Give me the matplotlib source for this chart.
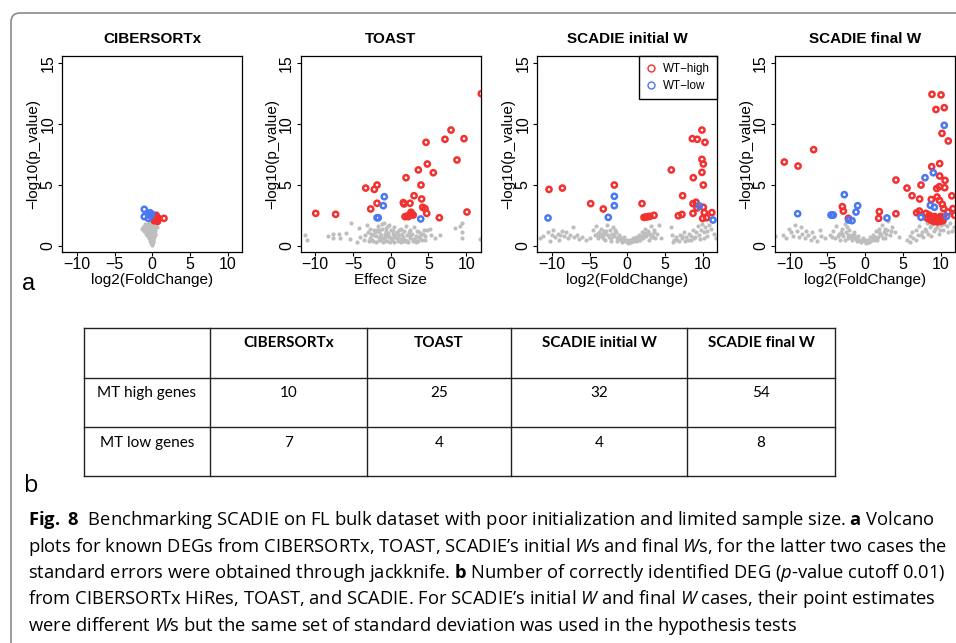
import matplotlib
matplotlib.use('Agg')
import matplotlib.pyplot as plt
from matplotlib.lines import Line2D
from matplotlib.patches import FancyBboxPatch
from matplotlib import font_manager as fm

# fonts: Helvetica-like for the R panels, Myriad/Calibri-like for table and caption
names = {f.name for f in fm.fontManager.ttflist}
plotfont = 'Liberation Sans' if 'Liberation Sans' in names else 'DejaVu Sans'
capfont = 'Open Sans' if 'Open Sans' in names else plotfont
tabfont = 'Lato' if 'Lato' in names else plotfont
plt.rcParams['font.family'] = [plotfont, 'DejaVu Sans']
plt.rcParams['mathtext.fontset'] = 'custom'
plt.rcParams['mathtext.rm'] = capfont
plt.rcParams['mathtext.it'] = capfont + ':italic'
plt.rcParams['mathtext.bf'] = capfont + ':bold'

RED = '#f2302f'
BLUE = '#4a78f2'
GRAY = '#bebebe'

# ---------------- panel a : volcano plots ----------------
titles = ['CIBERSORTx', 'TOAST', 'SCADIE initial W', 'SCADIE final W']
xlabels = ['log2(FoldChange)', 'Effect Size', 'log2(FoldChange)', 'log2(FoldChange)']

# CIBERSORTx
cib_gray_x = [-1.2, -1.0, -0.9, -0.7, -0.5, -0.3, -0.1, 0.1, 0.3, 0.5, -1.3, -1.1, -0.8, -0.6, -0.4,
              -0.2, 0.0, 0.2, 0.4, 0.6, -0.9, -0.7, -0.5, -0.3, -0.1, 0.1, 0.3, -0.6, -0.4, -0.2,
              0.0, 0.2, -0.4, -0.2, 0.0, 0.15, -0.3, -0.1, 0.05, -0.2, 0.0, -0.1, 0.0,
              -1.0, -0.6, -0.2, 0.2, -0.8, -0.4, 0.0, 0.4, -0.5, -0.1, 0.3, -0.3, 0.1, -0.15, 0.1]
cib_gray_y = [1.5, 1.8, 1.3, 1.6, 1.9, 1.7, 1.8, 1.6, 1.7, 1.9, 1.4, 1.2, 1.1, 1.4, 1.3,
              1.5, 1.3, 1.4, 1.2, 1.5, 1.0, 0.9, 1.0, 1.1, 1.0, 1.1, 0.9, 0.8, 0.7, 0.8,
              0.8, 0.7, 0.6, 0.5, 0.6, 0.5, 0.4, 0.35, 0.4, 0.25, 0.2, 0.1, 0.05,
              1.6, 1.75, 1.65, 1.8, 1.35, 1.2, 1.2, 1.35, 0.9, 0.85, 1.0, 0.65, 0.55, 0.3, 0.3]
cib_red_x = [0.36, 0.58, 0.26, 0.80, 1.55, 0.45, 0.70, 0.20, 0.50, 0.62]
cib_red_y = [2.39, 2.11, 2.06, 2.25, 2.25, 2.20, 2.00, 2.30, 2.50, 2.35]
cib_blue_x = [-1.06, -1.06, -0.30, -0.20, -0.53, -0.08, -0.40]
cib_blue_y = [2.99, 2.39, 2.71, 2.47, 2.25, 2.60, 2.55]

# TOAST
toast_gray_x = [-11.3, -11.1, -8.3, -7.6, -7.6, -6.9, -6.7, -5.9, -5.4, -5.2, -4.2, -4.5, -4.1, -3.6, -3.2, -3.0,
                -2.8, -2.6, -2.4, -2.2, -2.0, -1.9, -1.7, -1.6, -1.4, -1.3, -1.1, -1.0, -0.9, -0.8, -0.6, -0.5,
                -0.4, -0.3, -0.1, 0.0, 0.1, 0.3, 0.4, 0.5, 0.7, 0.8, 1.0, 1.1, 1.3, 1.4, 1.6, 1.7, 1.9, 2.0,
                2.2, 2.3, 2.5, 2.6, 2.8, 3.0, 3.1, 3.3, 3.5, 3.6, 3.8, 4.0, 4.2, 4.4, 4.6, -2.5, -1.5, -0.7,
                0.2, 1.2, 2.1, 2.9, -1.2, -0.2, 4.8, 5.4, 5.85, 4.55, 5.2, 6.5, 8.5, 9.4, 9.4, 9.4, 11.8, 9.2,
                -3.4, -2.9, -2.3, -1.8, -1.2, -0.7, -0.2, 0.3, 0.9, 1.5, 2.0, 2.6, 3.2, 3.7, 4.3,
                -2.7, -2.1, -1.5, -0.9, -0.4, 0.6, 1.1, 1.8, 2.4, 3.4, 3.9, -1.6, -0.6, 0.4, 1.6]
toast_gray_y = [0.88, 0.43, 0.80, 0.93, 0.66, 0.93, 0.60, 1.02, 0.52, 1.84, 1.48, 0.33, 0.74, 0.47, 1.70, 1.15,
                0.6, 1.0, 0.4, 1.3, 0.8, 0.3, 1.6, 1.1, 0.5, 0.9, 1.4, 0.3, 1.9, 0.7, 1.2, 0.4,
                1.6, 0.9, 0.3, 1.3, 0.6, 1.0, 0.3, 1.5, 0.7, 1.1, 0.4, 0.9, 1.4, 0.3, 0.7, 1.2, 0.5, 1.6,
                0.9, 0.3, 1.3, 0.6, 1.0, 0.4, 1.5, 0.8, 1.2, 0.35, 0.7, 1.0, 0.5, 1.3, 0.8, 0.5, 0.7, 0.5,
                0.45, 0.55, 0.4, 0.55, 1.8, 1.7, 1.29, 0.88, 0.60, 0.47, 1.4, 0.88, 1.48, 1.84, 1.1, 0.6, 0.52, 1.62,
                0.9, 0.35, 0.85, 1.25, 0.65, 1.0, 0.75, 1.2, 0.6, 1.0, 0.35, 0.85, 0.55, 1.1, 0.95,
                1.4, 1.1, 0.45, 0.4, 1.05, 0.85, 1.25, 0.4, 1.15, 0.3, 0.6, 1.3, 1.45, 0.75, 0.5]
toast_red_x = [-9.93, -7.29, -3.31, -2.17, -1.81, -2.65, -1.81, 2.03, 3.09, 1.67, 1.76, 2.56, 3.66, 4.01, 4.10,
               4.85, 5.64, 4.68, 7.19, 7.99, 9.71, 8.78, 4.24, 4.55, 4.77, 6.44, 10.10, 1.90, 2.20, 2.56, 2.78,
               2.33, 2.69, 2.99, 12.0]
toast_red_y = [2.66, 2.58, 4.74, 4.63, 4.99, 3.02, 3.49, 5.59, 4.11, 3.54, 3.43, 3.49, 6.23, 4.99, 3.84,
               6.72, 6.00, 8.50, 8.75, 9.51, 8.80, 7.05, 3.16, 3.05, 2.66, 2.30, 2.77, 2.39, 2.44, 2.55, 2.60,
               2.39, 2.75, 2.52, 12.5]
toast_blue_x = [-0.85, -0.98, -1.81, -1.64, 3.97]
toast_blue_y = [4.03, 3.29, 2.30, 2.30, 2.20]

# SCADIE initial W
init_gray_x = [-11.5, -11.1, -10.5, -10.3, -9.8, -9.6, -9.2, -9.0, -8.7, -8.4, -8.1, -7.8, -7.6, -7.2, -7.0, -6.7,
               -6.4, -6.0, -5.5, -4.9, -10.0, -8.9, -4.5, -4.3, -4.1, -3.9, -3.7, -3.5, -3.3, -3.1, -2.9, -2.7,
               -2.5, -2.3, -2.1, -1.9, -1.7, -1.5, -1.3, -1.1, -0.9, -0.7, -0.5, -0.3, -0.1, 0.1, 0.3, 0.5,
               0.7, 0.9, 1.1, 1.3, 1.5, 1.7, 1.9, 2.1, 2.3, 2.5, 2.7, 2.9, 3.1, 3.3, 3.5, 3.7, 3.9, 4.2,
               4.5, -3.0, -2.0, -1.0, 0.0, 1.0, 2.0, 3.0, 5.8, 5.9, 6.2, 6.5, 6.8, 7.0, 7.3, 7.5, 7.8, 8.0,
               8.2, 8.5, 8.7, 8.9, 9.1, 9.3, 9.5, 9.7, 9.9, 10.1, 10.3, 10.5, 10.8, 11.1, 11.5, 11.8, 6.0, 7.6,
               -3.8, -3.4, -2.8, -2.4, -1.8, -1.4, -0.8, -0.4, 0.2, 0.6, 1.2, 1.6, 2.2, 2.6, 3.2, 3.6,
               -4.0, -3.2, -2.2, -1.6, -1.2, 0.4, 1.4, 2.4, 3.4, 8.4, 9.0, 9.6, 10.2, 10.6, 7.2, 6.6]
init_gray_y = [0.6, 0.8, 1.1, 0.4, 1.3, 0.7, 1.0, 0.5, 1.2, 0.8, 1.1, 0.6, 0.9, 1.5, 0.7, 0.9,
               0.55, 0.7, 0.45, 0.6, 0.9, 0.9, 1.3, 0.9, 1.6, 0.6, 1.1, 1.4, 0.8, 1.2, 0.5, 1.7,
               0.9, 1.3, 0.6, 1.5, 0.8, 1.1, 0.4, 0.9, 0.6, 0.3, 0.7, 0.35, 0.5, 0.25, 0.45, 0.3,
               0.6, 0.35, 0.7, 0.4, 0.9, 0.5, 1.1, 0.6, 1.4, 0.8, 1.2, 0.5, 1.6, 0.9, 1.3, 0.6, 1.0, 1.7,
               0.6, 1.0, 1.0, 0.6, 0.4, 0.5, 0.8, 1.0, 1.5, 0.9, 0.5, 0.7, 0.4, 0.9, 0.6, 1.1, 0.7, 0.45,
               1.0, 0.8, 1.3, 0.6, 1.1, 1.6, 0.9, 1.3, 1.8, 1.1, 1.5, 0.8, 1.7, 1.4, 1.0, 0.6, 0.3, 0.35,
               0.8, 1.0, 1.2, 0.7, 1.0, 0.6, 0.45, 0.5, 0.35, 0.45, 0.5, 0.7, 0.9, 1.0, 0.7, 1.1,
               1.0, 0.6, 0.4, 1.3, 0.65, 0.3, 0.6, 1.05, 0.75, 0.5, 0.7, 0.55, 0.65, 1.2, 0.8, 0.5]
init_red_x = [-10.37, -8.60, -4.85, -3.18, -1.72, 1.95, 2.21, 2.48, 2.74, 3.00, 3.54, 5.83, 7.33, 6.76, 7.24,
              8.61, 9.27, 9.89, 10.29, 9.89, 10.07, 9.89, 8.74, 10.07, 9.10, 8.70, 10.07, 8.70, 9.23, 10.20,
              9.98, 10.50, 11.20, 10.16, 11.35]
init_red_y = [4.63, 4.74, 3.46, 3.02, 4.99, 3.46, 2.33, 2.36, 2.39, 2.41, 2.50, 6.23, 4.11, 2.46, 2.57,
              8.80, 8.75, 9.51, 8.50, 7.10, 6.72, 6.03, 5.59, 4.99, 3.57, 3.46, 3.16, 2.66, 3.10, 2.72,
              2.24, 2.30, 2.72, 15.33, 12.50]
init_blue_x = [-10.50, -2.52, -1.72, -1.72, 9.54, 11.35]
init_blue_y = [2.28, 2.33, 4.06, 3.29, 3.27, 2.11]

# SCADIE final W
final_gray_x = [-11.9, -10.9, -10.5, -10.1, -9.8, -9.5, -9.3, -9.0, -8.8, -8.5, -8.3, -8.0, -7.8, -7.5, -7.2, -7.0,
                -6.7, -6.4, -6.0, -5.8, -5.3, -4.6, -4.2, -4.0, -3.8, -3.5, -3.3, -3.1, -2.9, -2.7, -2.5, -2.3,
                -2.1, -1.9, -1.7, -1.5, -1.3, -1.1, -0.9, -0.7, -0.5, -0.3, -0.1, 0.1, 0.3, 0.5, 0.7, 0.9,
                1.1, 1.3, 1.5, 1.7, 1.9, 2.1, 2.3, 2.5, 2.7, 2.9, 3.1, 3.3, 3.6, 4.0, 4.5, -3.0, -2.0, -1.0,
                0.0, 1.0, 2.0, 5.5, 5.9, 6.2, 6.4, 6.7, 7.0, 7.2, 7.5, 7.7, 8.0, 8.2, 8.4, 8.6, 8.8, 9.0,
                9.2, 9.4, 9.6, 9.8, 10.0, 10.3, 10.6, 10.9, 11.2, 11.5, 11.8, 6.0, 7.9,
                -3.6, -3.2, -2.6, -2.2, -1.6, -1.2, -0.6, -0.2, 0.4, 0.8, 1.4, 1.8, 2.4, 2.8, 3.4,
                -4.4, -2.4, -1.4, -0.4, 0.6, 1.6, 2.6, 8.1, 8.7, 9.3, 9.9, 10.5, 11.0, 7.4, 6.8]
final_gray_y = [0.8, 0.9, 0.6, 1.4, 1.1, 0.8, 1.7, 1.2, 0.7, 1.5, 1.0, 0.6, 1.2, 0.9, 0.5, 1.1,
                0.7, 0.4, 1.3, 0.8, 0.6, 0.9, 1.2, 0.6, 1.6, 1.0, 0.5, 1.4, 0.8, 1.8, 1.1, 0.6,
                1.3, 0.9, 0.5, 1.1, 0.7, 0.4, 0.8, 0.5, 0.3, 0.6, 0.35, 0.2, 0.5, 0.3, 0.7, 0.45,
                0.9, 0.5, 1.2, 0.7, 1.4, 0.9, 1.7, 1.1, 0.6, 1.3, 2.0, 0.9, 1.5, 1.1, 0.7, 1.0, 0.7, 0.6,
                0.45, 0.6, 1.0, 0.5, 0.8, 1.1, 0.6, 1.3, 0.9, 1.6, 1.1, 0.7, 1.4, 1.9, 1.0, 1.5, 0.8, 1.8,
                1.2, 2.0, 1.5, 1.0, 1.7, 1.3, 2.1, 1.6, 1.9, 1.2, 1.5, 0.3, 2.2,
                0.8, 1.1, 0.5, 0.9, 0.7, 0.55, 0.4, 0.5, 0.3, 0.55, 0.75, 1.1, 0.6, 1.0, 1.2,
                0.7, 1.5, 0.9, 0.45, 0.4, 0.45, 1.4, 1.2, 1.7, 1.4, 1.3, 1.8, 1.1, 0.9, 0.5]
final_red_x = [-10.69, -8.87, -6.80, -3.00, -2.87, -2.20, 1.90, 1.81, 4.10, 4.10, 5.56, 6.23, 7.42, 7.24, 6.84,
               7.20, 8.83, 9.89, 9.89, 10.60, 9.50, 9.85, 10.56, 8.78, 9.54, 9.85, 10.24, 11.50, 10.42, 10.99,
               11.65, 11.87, 8.87, 10.07, 9.40, 10.50, 10.20, 11.03, 8.08, 8.52, 8.30, 8.70, 8.90, 9.10, 9.30,
               9.50, 9.70, 9.90, 10.10, 10.30, 9.20, 9.60, 10.00, 8.60, 10.40, 9.80]
final_red_y = [6.88, 6.55, 7.90, 3.21, 2.85, 2.25, 2.80, 2.25, 5.40, 2.63, 4.74, 4.11, 4.99, 3.84, 2.71,
               2.85, 6.50, 6.75, 5.73, 5.37, 4.70, 4.85, 4.77, 3.80, 4.00, 3.73, 3.40, 4.10, 3.05, 2.77,
               3.05, 2.50, 12.45, 12.40, 11.20, 11.35, 9.24, 8.61, 2.66, 2.52, 2.25, 2.10, 2.30, 2.00, 2.20,
               2.05, 2.30, 2.00, 2.20, 2.05, 2.40, 1.95, 2.40, 2.40, 2.35, 2.15]
final_blue_x = [-8.92, -4.50, -4.20, -4.35, -2.74, -0.97, -1.19, -2.16, -1.72, 2.91, 7.95, 9.05, 10.50, 8.66,
                9.19, 7.42, 10.82]
final_blue_y = [2.63, 2.52, 2.52, 2.52, 4.20, 3.29, 2.77, 2.11, 2.06, 2.28, 5.59, 6.00, 9.90, 3.32,
                3.16, 2.33, 2.42]

panels = [
    (cib_gray_x, cib_gray_y, cib_red_x, cib_red_y, cib_blue_x, cib_blue_y),
    (toast_gray_x, toast_gray_y, toast_red_x, toast_red_y, toast_blue_x, toast_blue_y),
    (init_gray_x, init_gray_y, init_red_x, init_red_y, init_blue_x, init_blue_y),
    (final_gray_x, final_gray_y, final_red_x, final_red_y, final_blue_x, final_blue_y),
]

# ---------------- panel b : table ----------------
table_cols = ['CIBERSORTx', 'TOAST', 'SCADIE initial W', 'SCADIE final W']
table_rows = ['MT high genes', 'MT low genes']
mt_high = [10, 25, 32, 54]
mt_low = [7, 4, 4, 8]

caption = [
    r'$\mathbf{Fig.\ 8}$  Benchmarking SCADIE on FL bulk dataset with poor initialization and limited sample size. $\mathbf{a}$ Volcano',
    r'plots for known DEGs from CIBERSORTx, TOAST, SCADIE’s initial $\mathit{W}$s and final $\mathit{W}$s, for the latter two cases the',
    r'standard errors were obtained through jackknife. $\mathbf{b}$ Number of correctly identified DEG ($\mathit{p}$-value cutoff 0.01)',
    r'from CIBERSORTx HiRes, TOAST, and SCADIE. For SCADIE’s initial $\mathit{W}$ and final $\mathit{W}$ cases, their point estimates',
    r'were different $\mathit{W}$s but the same set of standard deviation was used in the hypothesis tests',
]

W, H = 956, 643
fig = plt.figure(figsize=(W / 100, H / 100), dpi=100)
fig.patch.set_facecolor('white')

# overlay in pixel units for frame, table and caption
ov = fig.add_axes([0, 0, 1, 1], zorder=-1)
ov.set_xlim(0, W); ov.set_ylim(H, 0); ov.axis('off')
ov.add_patch(FancyBboxPatch((11, 13), 1100, 800, boxstyle='round,pad=0,rounding_size=9',
                            fc='none', ec='#8a8a8a', lw=1.2, clip_on=False))

centers = [152.3, 390.7, 627.3, 865.0]
xl = (-11.9, 11.9); yl = (-0.5, 15.6)
pw = (xl[1] - xl[0]) * 7.55
ph = (yl[1] - yl[0]) * 12.16
top = 56.0
for k, (gx, gy, rx, ry, bx, by) in enumerate(panels):
    ax = fig.add_axes([(centers[k] - pw / 2) / W, 1 - (top + ph) / H, pw / W, ph / H])
    ax.scatter(gx, gy, s=9, c=GRAY, linewidths=0, zorder=2)
    ax.scatter(rx, ry, s=14, facecolors='none', edgecolors=RED, linewidths=1.8, zorder=3)
    ax.scatter(bx, by, s=14, facecolors='none', edgecolors=BLUE, linewidths=1.8, zorder=4)
    ax.set_xlim(*xl); ax.set_ylim(*yl)
    ax.set_xticks([-10, -5, 0, 5, 10]); ax.set_yticks([0, 5, 10, 15])
    ax.tick_params(direction='out', length=3, width=0.8, labelsize=11.5, colors='black')
    ax.tick_params(axis='x', pad=1)
    ax.tick_params(axis='y', pad=2)
    for lab in ax.get_yticklabels():
        lab.set_rotation(90); lab.set_va('center')
    for s in ax.spines.values():
        s.set_linewidth(0.9)
    ax.set_title(titles[k], fontsize=11, fontweight='bold', pad=9.4)
    ax.set_xlabel(xlabels[k], fontsize=11, labelpad=0.5)
    ax.set_ylabel('−log10(p_value)', fontsize=11, labelpad=0)
    if k == 2:
        hs = [Line2D([], [], ls='', marker='o', mfc='none', mec=RED, mew=1, ms=5),
              Line2D([], [], ls='', marker='o', mfc='none', mec=BLUE, mew=1, ms=5)]
        lg = ax.legend(hs, ['WT−high', 'WT−low'], loc='upper right', fontsize=8.4, fancybox=False,
                       framealpha=1, edgecolor='black', borderaxespad=0, handlelength=1.0,
                       handletextpad=0.5, borderpad=0.6, labelspacing=0.45)
        lg.get_frame().set_linewidth(1.0)

ov.text(29, 290, 'a', fontsize=17, family=plotfont, ha='center', va='baseline')

# table
col_edges = [84, 210, 367, 511, 687, 835]
row_edges = [328, 378, 427, 476]
for xe in col_edges:
    ov.plot([xe, xe], [row_edges[0], row_edges[-1]], color='#222222', lw=1.0)
for ye in row_edges:
    ov.plot([col_edges[0], col_edges[-1]], [ye, ye], color='#222222', lw=1.0)
for j, name in enumerate(table_cols):
    cx = (col_edges[j + 1] + col_edges[j + 2]) / 2
    ov.text(cx, 343, name, fontsize=11, family=tabfont, fontweight='bold', ha='center', va='center')
    ov.text(cx, 393, str(mt_high[j]), fontsize=11, family=tabfont, ha='center', va='center')
    ov.text(cx, 443, str(mt_low[j]), fontsize=11, family=tabfont, ha='center', va='center')
for i, name in enumerate(table_rows):
    ov.text((col_edges[0] + col_edges[1]) / 2, 393 + 50 * i, name, fontsize=11, family=tabfont,
            ha='center', va='center')

ov.text(31, 492, 'b', fontsize=17, family=capfont, ha='center', va='baseline')

for i, line in enumerate(caption):
    ov.text(28, 525 + 26.5 * i, line, fontsize=13.2, family=capfont, ha='left', va='baseline')

fig.savefig('out.png', dpi=100)
